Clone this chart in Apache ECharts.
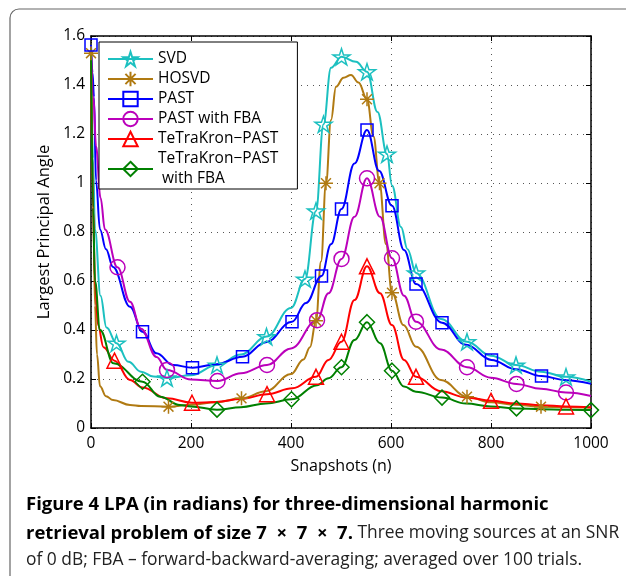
<!DOCTYPE html>
<html>
<head>
<meta charset="utf-8">
<script src="https://cdn.jsdelivr.net/npm/echarts@6/dist/echarts.min.js"></script>
<style>
  html, body { margin: 0; padding: 0; background: #fff; }
  #chart { width: 626px; height: 576px; }
</style>
</head>
<body>
<div id="chart"></div>
<script>
  // axis ticks
  const xTicks = [0, 200, 400, 600, 800, 1000];
  const yTicks = [0, 0.2, 0.4, 0.6, 0.8, 1, 1.2, 1.4, 1.6];

  // SVD
  const svdN = [0, 4, 8, 19, 31, 51, 75, 100, 125, 152, 200, 252, 300, 351, 400, 428, 450, 465, 480, 501, 530, 552, 573, 592, 602, 620, 633, 650, 700, 752, 800, 850, 900, 950, 1000];
  const svdV = [1.56, 1.1, 0.81, 0.54, 0.41, 0.346, 0.27, 0.23, 0.21, 0.204, 0.215, 0.257, 0.3, 0.373, 0.49, 0.608, 0.886, 1.24, 1.47, 1.515, 1.495, 1.454, 1.29, 1.118, 0.99, 0.82, 0.73, 0.633, 0.445, 0.352, 0.295, 0.257, 0.23, 0.209, 0.189];
  const svdMarks = [51, 152, 252, 351, 428, 450, 465, 501, 552, 592, 650, 752, 850, 950];

  // HOSVD
  const hosN = [0, 4, 8, 12, 18, 30, 44, 78, 100, 155, 200, 250, 301, 350, 400, 425, 438, 450, 460, 470, 480, 490, 505, 520, 535, 552, 565, 577, 590, 602, 625, 650, 700, 752, 800, 850, 900, 950, 1000];
  const hosV = [1.53, 0.95, 0.5, 0.3, 0.17, 0.13, 0.114, 0.094, 0.09, 0.087, 0.095, 0.105, 0.121, 0.15, 0.22, 0.28, 0.33, 0.438, 0.68, 0.999, 1.257, 1.393, 1.43, 1.441, 1.41, 1.342, 1.19, 0.999, 0.75, 0.552, 0.42, 0.332, 0.196, 0.128, 0.105, 0.095, 0.087, 0.085, 0.083];
  const hosMarks = [0, 155, 301, 450, 470, 552, 577, 602, 752, 900];

  // PAST
  const pastN = [0, 3, 6, 10, 18, 30, 44, 78, 103, 131, 164, 203, 250, 303, 350, 402, 430, 461, 480, 501, 527, 552, 576, 602, 626, 650, 702, 750, 801, 850, 901, 950, 1000];
  const pastV = [1.563, 1.45, 1.35, 1.01, 0.81, 0.73, 0.657, 0.495, 0.393, 0.305, 0.257, 0.246, 0.26, 0.291, 0.35, 0.434, 0.51, 0.62, 0.75, 0.894, 1.08, 1.216, 1.05, 0.907, 0.727, 0.588, 0.43, 0.34, 0.278, 0.24, 0.212, 0.195, 0.18];
  const pastMarks = [0, 103, 203, 303, 402, 461, 501, 552, 602, 650, 702, 801, 901];

  // PAST with FBA
  const fbaN = [0, 5, 10, 19, 28, 53, 78, 100, 131, 152, 200, 253, 300, 352, 400, 452, 475, 501, 527, 552, 578, 602, 626, 650, 700, 752, 800, 851, 900, 950, 1000];
  const fbaV = [1.55, 1.35, 1.15, 0.94, 0.81, 0.656, 0.515, 0.405, 0.29, 0.237, 0.198, 0.192, 0.223, 0.257, 0.325, 0.44, 0.55, 0.69, 0.862, 1.019, 0.862, 0.693, 0.54, 0.434, 0.32, 0.248, 0.205, 0.18, 0.16, 0.145, 0.131];
  const fbaMarks = [53, 152, 253, 352, 452, 501, 552, 602, 650, 752, 851, 950];

  // TeTraKron-PAST
  const tkN = [0, 4, 8, 14, 25, 47, 78, 103, 152, 202, 250, 300, 352, 403, 450, 475, 501, 527, 552, 578, 602, 626, 650, 700, 750, 800, 850, 900, 950, 1000];
  const tkV = [1.55, 0.9, 0.6, 0.42, 0.33, 0.275, 0.196, 0.165, 0.121, 0.103, 0.106, 0.118, 0.138, 0.162, 0.209, 0.278, 0.352, 0.522, 0.66, 0.55, 0.42, 0.278, 0.209, 0.15, 0.125, 0.111, 0.1, 0.093, 0.088, 0.085];
  const tkMarks = [47, 202, 352, 450, 501, 552, 650, 800, 950];

  // TeTraKron-PAST with FBA
  const tkfN = [0, 4, 8, 18, 45, 103, 138, 178, 200, 252, 300, 350, 401, 452, 475, 501, 527, 552, 578, 602, 626, 650, 702, 750, 800, 851, 900, 950, 1000];
  const tkfV = [1.55, 0.9, 0.6, 0.4, 0.264, 0.189, 0.128, 0.094, 0.088, 0.075, 0.085, 0.1, 0.117, 0.175, 0.203, 0.248, 0.359, 0.432, 0.346, 0.234, 0.169, 0.148, 0.124, 0.1, 0.088, 0.08, 0.077, 0.075, 0.073];
  const tkfMarks = [103, 252, 401, 501, 552, 602, 702, 851, 1000];

  const STAR = 'path://M0,-100L22.45,-30.9L95.1,-30.9L36.3,11.8L58.8,80.9L0,38.2L-58.8,80.9L-36.3,11.8L-95.1,-30.9L-22.45,-30.9Z';
  const ASTER = 'path://M0,-100L0,100M-100,0L100,0M-70.7,-70.7L70.7,70.7M-70.7,70.7L70.7,-70.7';

  function zip(ns, vs) {
    return ns.map((n, i) => [n, vs[i]]);
  }

  function makeSeries(name, ns, vs, marks, color, symbol, size) {
    return {
      name: name,
      type: 'line',
      data: zip(ns, vs),
      smooth: 0.4,
      smoothMonotone: 'x',
      showAllSymbol: true,
      symbol: symbol,
      symbolKeepAspect: true,
      symbolSize: (val) => marks.includes(val[0]) ? size : 0,
      color: color,
      lineStyle: { color: color, width: 2 },
      itemStyle: { color: 'rgba(0,0,0,0)', borderColor: color, borderWidth: 1.5 },
      emphasis: { disabled: true },
      animation: false
    };
  }

  const font = 'Open Sans';
  const boxLine = { show: true, onZero: false, lineStyle: { color: '#000', width: 1.5 } };
  const inTick = { inside: true, length: 5, lineStyle: { color: '#000' } };
  const dotted = { show: true, lineStyle: { color: '#555', type: [1, 5], width: 1 } };

  const myChart = echarts.init(document.getElementById('chart'));
  myChart.setOption({
    animation: false,
    textStyle: { fontFamily: font },
    grid: { left: 91, right: 35, top: 36, bottom: 148 },
    legend: {
      orient: 'vertical',
      left: 99,
      top: 42,
      itemWidth: 45,
      itemHeight: 18,
      itemGap: 0,
      padding: [7, 19, 0, 8],
      backgroundColor: '#fff',
      borderColor: '#000',
      borderWidth: 1,
      borderRadius: 0,
      textStyle: { fontFamily: font, fontSize: 15.5, color: '#000', lineHeight: 20 },
      data: ['SVD', 'HOSVD', 'PAST', 'PAST with FBA', 'TeTraKron−PAST', 'TeTraKron−PAST\n with FBA']
    },
    xAxis: [{
      type: 'value',
      min: 0,
      max: 1000,
      interval: 200,
      name: 'Snapshots (n)',
      nameLocation: 'middle',
      nameGap: 30,
      nameTextStyle: { fontFamily: font, fontSize: 16, color: '#000' },
      axisLine: boxLine,
      axisTick: inTick,
      axisLabel: { fontFamily: font, fontSize: 15.5, color: '#000', margin: 8, formatter: (v) => String(v) },
      splitLine: dotted
    }, {
      type: 'value',
      position: 'top',
      min: 0,
      max: 1000,
      interval: 200,
      axisLine: boxLine,
      axisTick: inTick,
      axisLabel: { show: false },
      splitLine: { show: false }
    }],
    yAxis: [{
      type: 'value',
      min: 0,
      max: 1.6,
      interval: 0.2,
      name: 'Largest Principal Angle',
      nameLocation: 'middle',
      nameGap: 38,
      nameTextStyle: { fontFamily: font, fontSize: 16.5, color: '#000' },
      axisLine: boxLine,
      axisTick: inTick,
      axisLabel: {
        fontFamily: font, fontSize: 15.5, color: '#000', margin: 6,
        formatter: (v) => String(Number(v.toFixed(1)))
      },
      splitLine: dotted
    }, {
      type: 'value',
      position: 'right',
      min: 0,
      max: 1.6,
      interval: 0.2,
      axisLine: boxLine,
      axisTick: inTick,
      axisLabel: { show: false },
      splitLine: { show: false }
    }],
    graphic: [
      {
        type: 'rect',
        shape: { x: 10, y: 9, width: 700, height: 700, r: 9 },
        style: { fill: 'none', stroke: '#666', lineWidth: 1.2 },
        silent: true
      },
      {
        type: 'text', left: 26, top: 495,
        style: { text: 'Figure 4 LPA (in radians) for three-dimensional harmonic', fontFamily: font, fontSize: 18.5, fontWeight: 'bold', fill: '#000' }
      },
      {
        type: 'text', left: 26, top: 524,
        style: {
          text: '{b|retrieval problem of size 7  ×  7  ×  7.} Three moving sources at an SNR',
          fontFamily: font, fontSize: 17.4, fill: '#222',
          rich: { b: { fontFamily: font, fontSize: 18.5, fontWeight: 'bold', fill: '#000' } }
        }
      },
      {
        type: 'text', left: 26, top: 552,
        style: { text: 'of 0 dB; FBA – forward-backward-averaging; averaged over 100 trials.', fontFamily: font, fontSize: 17.4, fill: '#222' }
      }
    ],
    series: [
      makeSeries('SVD', svdN, svdV, svdMarks, '#1cc0c0', STAR, 17),
      makeSeries('HOSVD', hosN, hosV, hosMarks, '#b07a12', ASTER, 14),
      makeSeries('PAST', pastN, pastV, pastMarks, '#0000ff', 'rect', 12),
      makeSeries('PAST with FBA', fbaN, fbaV, fbaMarks, '#bb00bb', 'circle', 15),
      makeSeries('TeTraKron−PAST', tkN, tkV, tkMarks, '#ff0000', 'triangle', 15),
      makeSeries('TeTraKron−PAST\n with FBA', tkfN, tkfV, tkfMarks, '#008000', 'diamond', 15)
    ]
  });
</script>
</body>
</html>
